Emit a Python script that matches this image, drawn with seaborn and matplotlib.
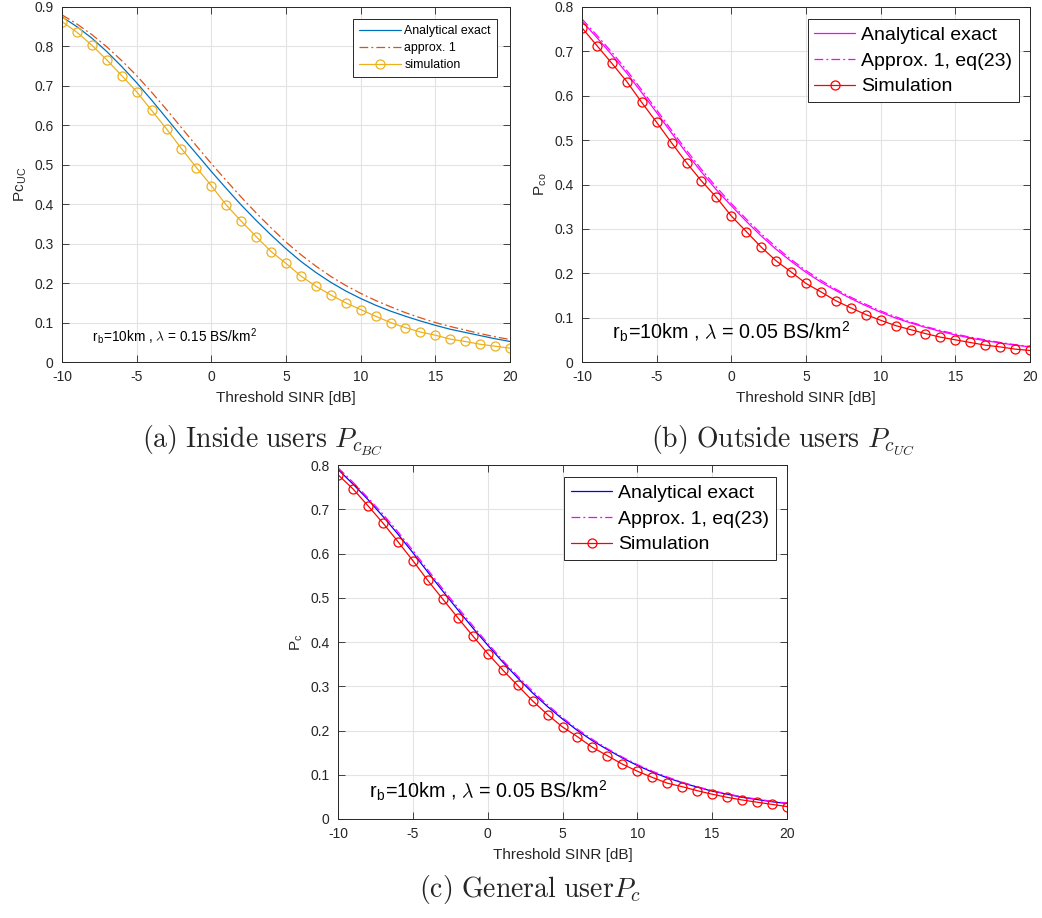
import numpy as np
import pandas as pd
import seaborn as sns
import matplotlib
matplotlib.use("Agg")
import matplotlib.pyplot as plt

# ---- data -------------------------------------------------------------
sinr_db = list(range(-10, 21))

# (a) inside users
a_exact = [.875, .850, .821, .787, .749, .708, .664, .618, .572, .528, .483,
           .440, .398, .359, .322, .287, .255, .227, .202, .180, .161, .144,
           .129, .116, .104, .093, .083, .075, .067, .059, .052]
a_approx = [.880, .857, .830, .799, .764, .726, .684, .640, .594, .548, .503,
            .460, .418, .378, .340, .304, .272, .243, .217, .194, .174, .156,
            .140, .125, .112, .100, .090, .081, .072, .064, .057]
a_sim = [.863, .836, .803, .766, .726, .685, .638, .591, .541, .493, .447,
         .398, .357, .318, .280, .250, .218, .192, .170, .150, .133, .116,
         .100, .087, .076, .068, .058, .052, .045, .040, .035]

# (b) outside users
b_exact = [.768, .731, .692, .651, .607, .562, .516, .471, .428, .388, .352,
           .317, .284, .254, .227, .202, .180, .161, .143, .127, .112, .099,
           .088, .078, .069, .061, .054, .048, .043, .038, .034]
b_approx = [.773, .736, .698, .657, .613, .568, .522, .477, .434, .394, .357,
            .322, .289, .259, .231, .206, .184, .164, .146, .130, .115, .102,
            .090, .080, .071, .063, .056, .050, .044, .039, .035]
b_sim = [.753, .713, .673, .632, .585, .540, .494, .449, .408, .371, .329,
         .294, .259, .228, .203, .177, .158, .138, .122, .107, .094, .082,
         .073, .064, .056, .050, .044, .038, .034, .029, .026]

# (c) general user
c_exact = [.790, .757, .722, .684, .644, .602, .558, .515, .473, .432, .393,
           .355, .319, .285, .254, .226, .200, .177, .157, .138, .121, .106,
           .093, .082, .072, .063, .056, .049, .044, .039, .035]
c_approx = [.794, .761, .726, .689, .649, .607, .563, .520, .478, .437, .397,
            .359, .323, .289, .258, .229, .203, .180, .159, .140, .123, .108,
            .095, .083, .073, .064, .057, .050, .045, .040, .036]
c_sim = [.778, .746, .708, .669, .627, .584, .539, .497, .455, .414, .374,
         .337, .302, .267, .236, .208, .186, .162, .143, .124, .108, .094,
         .081, .073, .064, .056, .049, .043, .038, .033, .028]

x_ticks = [-10, -5, 0, 5, 10, 15, 20]

# ---- style ------------------------------------------------------------
sns.set_theme(style="ticks")
plt.rcParams["font.family"] = ["Liberation Sans", "DejaVu Sans"]
plt.rcParams["mathtext.fontset"] = "cm"
plt.rcParams["axes.unicode_minus"] = False

AX_COLOR = "#262626"
GRID_COLOR = "#E3E3E3"

W, H = 1042, 918
fig = plt.figure(figsize=(W / 100, H / 100), dpi=100)


def px_axes(left, top, right, bottom):
    return fig.add_axes([left / W, 1 - bottom / H, (right - left) / W, (bottom - top) / H])


def style_axes(ax, ymax, ylabel):
    ax.set_xlim(-10, 20)
    ax.set_ylim(0, ymax)
    ax.set_xticks(x_ticks)
    ax.set_xticklabels([str(t) for t in x_ticks])
    yt = np.round(np.arange(0, ymax + 1e-9, 0.1), 1)
    ax.set_yticks(yt)
    ax.set_yticklabels(["0"] + [f"{v:g}" for v in yt[1:]])
    ax.grid(True, color=GRID_COLOR, linewidth=0.8)
    ax.set_axisbelow(True)
    ax.tick_params(direction="in", length=5, width=0.6, colors=AX_COLOR,
                   labelsize=10, top=True, right=True, pad=6)
    for s in ax.spines.values():
        s.set_visible(True)
        s.set_color(AX_COLOR)
        s.set_linewidth(0.7)
    ax.set_xlabel("Threshold SINR [dB]", fontsize=11, color=AX_COLOR, labelpad=5)
    ax.set_ylabel(ylabel, fontsize=11, color=AX_COLOR, labelpad=4)


def draw(ax, exact, approx, sim, c_exact_col, c_approx_col, c_sim_col, labels):
    sns.lineplot(x=sinr_db, y=exact, ax=ax, color=c_exact_col, linewidth=0.9,
                 label=labels[0])
    sns.lineplot(x=sinr_db, y=approx, ax=ax, color=c_approx_col, linewidth=0.9,
                 linestyle=(0, (7, 2.5, 1.5, 2.5)), label=labels[1])
    sns.lineplot(x=sinr_db, y=sim, ax=ax, color=c_sim_col, linewidth=0.9,
                 marker="o", markersize=6.5, markerfacecolor="none",
                 markeredgecolor=c_sim_col, markeredgewidth=0.9, label=labels[2])


def legend(ax, size, handlelength, bbox, spacing, pad):
    leg = ax.legend(loc="upper right", bbox_to_anchor=bbox, fontsize=size,
                    frameon=True, fancybox=False, framealpha=1,
                    edgecolor=AX_COLOR, handlelength=handlelength,
                    borderpad=pad, labelspacing=spacing, handletextpad=0.3,
                    borderaxespad=0)
    leg.get_frame().set_linewidth(0.7)
    for t in leg.get_texts():
        t.set_color("black")


# (a)
ax_a = px_axes(62, 7, 510, 362)
draw(ax_a, a_exact, a_approx, a_sim, "#0072BD", "#D95319", "#EDB120",
     ["Analytical exact", "approx. 1", "simulation"])
style_axes(ax_a, 0.9, r"Pc$_\mathregular{UC}$")
legend(ax_a, 8.9, 3.4, (0.97, 0.965), 0.42, 0.45)
ax_a.text(-8.0, 0.051, r"r$_\mathregular{b}$=10km , $\lambda$ = 0.15 BS/km$^\mathregular{2}$",
          fontsize=9.8, color="black", va="baseline")

# (b)
ax_b = px_axes(582, 7, 1030, 362)
draw(ax_b, b_exact, b_approx, b_sim, "#FF00FF", "#FF00FF", "#FF0000",
     ["Analytical exact", "Approx. 1, eq(23)", "Simulation"])
style_axes(ax_b, 0.8, r"P$_\mathregular{co}$")
legend(ax_b, 14, 2.1, (0.975, 0.965), 0.42, 0.35)
ax_b.text(-8.0, 0.05, r"r$_\mathregular{b}$=10km , $\lambda$ = 0.05 BS/km$^\mathregular{2}$",
          fontsize=14.2, color="black", va="baseline")

# (c)
ax_c = px_axes(338, 465, 787, 819)
draw(ax_c, c_exact, c_approx, c_sim, "#0000FF", "#FF00FF", "#FF0000",
     ["Analytical exact", "Approx. 1, eq(23)", "Simulation"])
style_axes(ax_c, 0.8, r"P$_\mathregular{c}$")
legend(ax_c, 14, 2.1, (0.975, 0.965), 0.42, 0.35)
ax_c.text(-7.9, 0.047, r"r$_\mathregular{b}$=10km , $\lambda$ = 0.05 BS/km$^\mathregular{2}$",
          fontsize=14.2, color="black", va="baseline")

# captions
fig.text(263 / W, 1 - 447 / H, r"$\mathrm{(a)\ Inside\ users\ }P_{c_{BC}}$",
         ha="center", va="baseline", fontsize=20)
fig.text(783 / W, 1 - 447 / H, r"$\mathrm{(b)\ Outside\ users\ }P_{c_{UC}}$",
         ha="center", va="baseline", fontsize=20)
fig.text(530 / W, 1 - 897 / H, r"$\mathrm{(c)\ General\ user}P_c$",
         ha="center", va="baseline", fontsize=20)

fig.savefig("out.png", dpi=100)
